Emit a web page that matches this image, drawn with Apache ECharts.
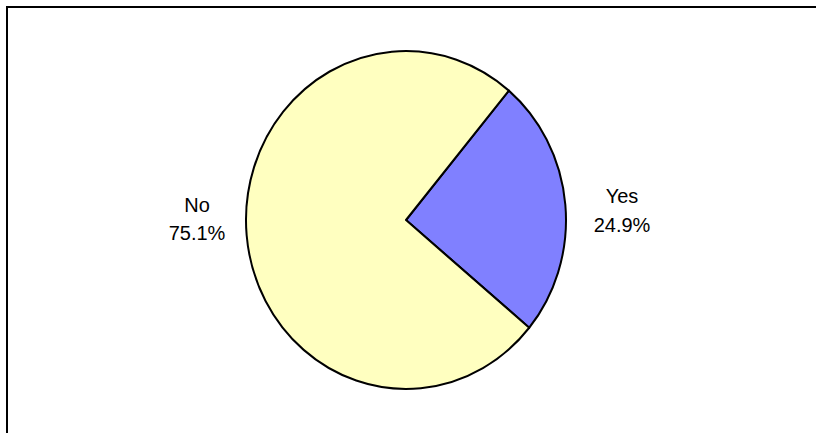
<!DOCTYPE html>
<html>
<head>
<meta charset="utf-8">
<script src="https://cdn.jsdelivr.net/npm/echarts@6/dist/echarts.min.js"></script>
<style>
  html, body { margin: 0; padding: 0; background: #fff; overflow: hidden; }
  #frame {
    position: absolute; left: 6px; top: 6px; width: 840px; height: 460px;
    border-left: 2px solid #000; border-top: 2px solid #000;
  }
  /* the pie is slightly taller than wide, so stretch the drawing vertically */
  #chart {
    position: absolute; left: 0; top: 0; width: 816px; height: 433px;
    transform: scaleY(1.056); transform-origin: 406px 220px;
  }
</style>
</head>
<body>
<div id="frame"></div>
<div id="chart"></div>
<script>
// Answer shares (percent)
const categories = ['Yes', 'No'];
const shares = [24.9, 75.1];

const sliceColors = ['#8080FF', '#FFFFC0'];
const pieCenter = [406, 220];
const pieRadius = 160;
// label block centres relative to the pie centre
const labelOffsets = [[216, -9.5], [-209, -1.5]];

const chart = echarts.init(document.getElementById('chart'), null, { renderer: 'svg' });

chart.setOption({
  animation: false,
  backgroundColor: 'transparent',
  series: [{
    type: 'pie',
    center: pieCenter,
    radius: pieRadius,
    startAngle: 50,
    clockwise: true,
    avoidLabelOverlap: false,
    silent: true,
    data: categories.map((name, i) => ({
      name: name,
      value: shares[i],
      itemStyle: { color: sliceColors[i] }
    })),
    itemStyle: { borderColor: '#000', borderWidth: 2 },
    label: {
      show: true,
      position: 'outside',
      color: '#000',
      fontFamily: 'Liberation Sans, Arial, sans-serif',
      fontSize: 20,
      lineHeight: 27,
      formatter: p => p.name + '\n' + p.percent.toFixed(1) + '%'
    },
    labelLine: { show: false },
    labelLayout: p => ({
      x: pieCenter[0] + labelOffsets[p.dataIndex][0],
      y: pieCenter[1] + labelOffsets[p.dataIndex][1],
      align: 'center',
      verticalAlign: 'middle'
    })
  }]
});
</script>
</body>
</html>
